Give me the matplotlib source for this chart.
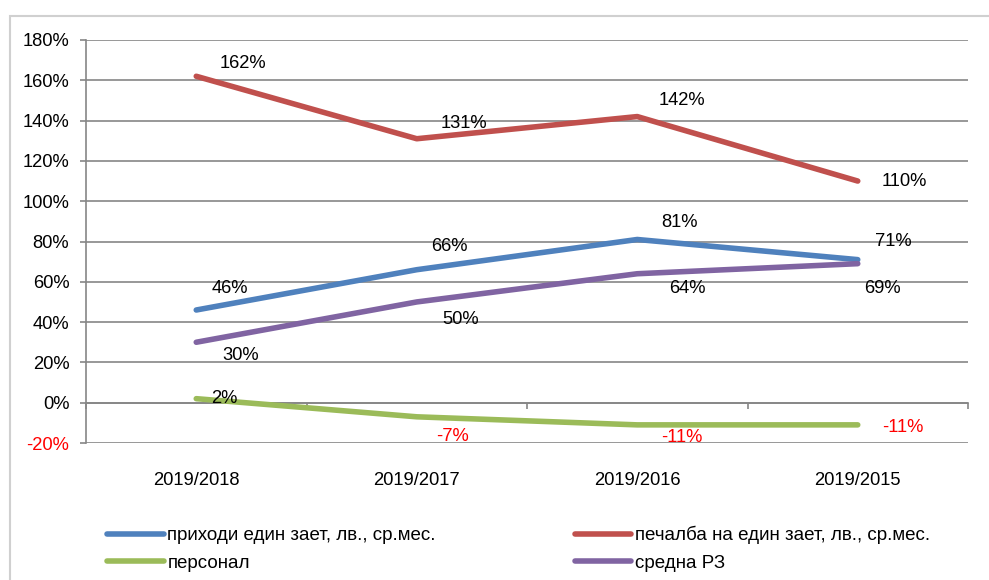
import matplotlib.pyplot as plt
from matplotlib.patches import Rectangle
from matplotlib.ticker import FixedLocator, NullFormatter

plt.rcParams['font.family'] = ['Liberation Sans', 'DejaVu Sans']

# data
categories = ['2019/2018', '2019/2017', '2019/2016', '2019/2015']
series_names = ['приходи един зает, лв., ср.мес.',
                'печалба на един зает, лв., ср.мес.',
                'персонал',
                'средна РЗ']
prihodi = [46, 66, 81, 71]
pechalba = [162, 131, 142, 110]
personal = [2, -7, -11, -11]
sredna_rz = [30, 50, 64, 69]
yticks = [-20, 0, 20, 40, 60, 80, 100, 120, 140, 160, 180]

colors = ['#4F81BD', '#C0504D', '#9BBB59', '#8064A2']
values = [prihodi, pechalba, personal, sredna_rz]

# label offsets in pixels (dx, dy) for each point
offsets = [
    [(34, 22), (33, 23), (42, 17), (36, 18)],
    [(47, 13), (47, 15), (45, 16), (47, 0)],
    [(28, 0), (36, -20), (45, -13), (45, -3)],
    [(44, -13), (44, -18), (50, -15), (25, -25)],
]

fs = 13.2

fig = plt.figure(figsize=(9.89, 5.8), dpi=100)
ax = fig.add_axes([86/989, 1-443/580, 882/989, 403/580])

# outer chart border
fig.patches.append(Rectangle((10/989, -0.05), 1.1, 1.05-16/580, transform=fig.transFigure,
                             fill=False, edgecolor='#d0d0d0', lw=1.5))

x = list(range(len(categories)))
lines = []
for i in range(len(values)):
    ln, = ax.plot(x, values[i], color=colors[i], lw=4, solid_capstyle='round',
                  solid_joinstyle='round', label=series_names[i], zorder=3)
    lines.append(ln)
    for j, v in enumerate(values[i]):
        dx, dy = offsets[i][j]
        col = 'red' if v < 0 else 'black'
        ax.annotate(f'{v}%', (x[j], v), xytext=(dx, dy), textcoords='offset pixels',
                    ha='center', va='center', fontsize=fs, color=col, zorder=4)

ax.set_xlim(-0.5, len(categories) - 0.5)
ax.set_ylim(-20, 180)
ax.set_yticks(yticks)
ax.set_yticklabels([f'{t}%' for t in yticks], fontsize=fs)
for lab, t in zip(ax.get_yticklabels(), yticks):
    if t < 0:
        lab.set_color('red')
ax.yaxis.grid(True, color='#868686', lw=1.2)
ax.set_axisbelow(True)
ax.tick_params(axis='y', length=4, width=1.2, color='#868686', pad=8)

# category axis crosses at 0
ax.spines['bottom'].set_position(('data', 0))
ax.spines['bottom'].set_color('#868686')
ax.spines['bottom'].set_linewidth(1.2)
ax.xaxis.set_major_locator(FixedLocator([k - 0.5 for k in range(len(categories) + 1)]))
ax.xaxis.set_major_formatter(NullFormatter())
ax.tick_params(axis='x', length=4, width=1.2, color='#868686')
for k, c in enumerate(categories):
    ax.text(k, -0.094, c, transform=ax.get_xaxis_transform(), ha='center', va='center',
            fontsize=fs)

ax.spines['left'].set_color('#868686')
ax.spines['left'].set_linewidth(1.2)
ax.spines['top'].set_visible(False)
ax.spines['right'].set_visible(False)

# legend: column-wise order so rows read blue/red, green/purple
order = [0, 2, 1, 3]
fig.legend([lines[k] for k in order], [series_names[k] for k in order],
           loc='center left', bbox_to_anchor=(98/989, 1-549/580), ncol=2,
           frameon=False, fontsize=13.5, handlelength=3.0, handletextpad=0.2,
           columnspacing=7.4, labelspacing=0.55, borderpad=0)

fig.savefig('out.png', dpi=100)
